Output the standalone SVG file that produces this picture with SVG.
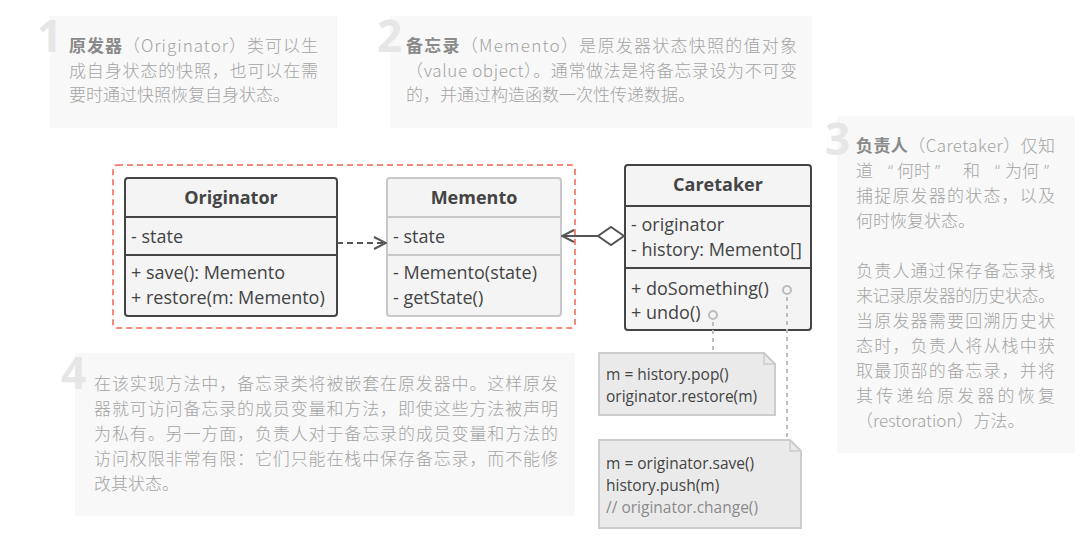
<svg xmlns="http://www.w3.org/2000/svg" width="1085" height="548" viewBox="0 0 1085 548">
<style>
.panel{fill:#f8f8f8}
.num{font-family:"Open Sans","Liberation Sans",sans-serif;font-weight:bold;font-size:44px;fill:#e6e6e6}
.pt{font-family:"Noto Sans CJK SC","Open Sans",sans-serif;font-weight:300;font-size:17px;fill:#a4a4a4}
.pb{font-weight:bold;fill:#8a8a8a}
.box{fill:#f4f4f4;stroke:#444;stroke-width:2}
.boxl{fill:#f4f4f4;stroke:#c8c8c8;stroke-width:2}
.hd{font-family:"Open Sans","Liberation Sans",sans-serif;font-weight:bold;font-size:18px;fill:#444;text-anchor:middle}
.mb{font-family:"Open Sans","Liberation Sans",sans-serif;font-size:18px;fill:#444}
.note{fill:#eaeaea;stroke:#cccccc;stroke-width:2}
.nt{font-family:"Open Sans","Liberation Sans",sans-serif;font-size:15.5px;fill:#444}
.cm{fill:#8a8a8a}
.dot{fill:none;stroke:#bdbdbd;stroke-width:2}
.q{font-family:"Open Sans",sans-serif}
</style>
<defs>
<marker id="open" viewBox="0 0 14 14" refX="13" refY="7" markerWidth="14" markerHeight="14" markerUnits="userSpaceOnUse" orient="auto">
<path d="M1,1 L13,7 L1,13" fill="none" stroke="#555" stroke-width="2"/>
</marker>
</defs>

<g id="note1-panel">
<rect class="panel" x="50" y="16" width="287" height="112"/>
<text class="num" x="37" y="52">1</text>
<text class="pt" x="69" y="52" textLength="249" lengthAdjust="spacing"><tspan class="pb">原发器</tspan>（Originator）类可以生</text>
<text class="pt" x="69" y="77" textLength="249" lengthAdjust="spacing">成自身状态的快照，也可以在需</text>
<text class="pt" x="69" y="101">要时通过快照恢复自身状态。</text>
</g>

<g id="note2-panel">
<rect class="panel" x="390" y="16" width="422" height="112"/>
<text class="num" x="377" y="52">2</text>
<text class="pt" x="406" y="52" textLength="391" lengthAdjust="spacing"><tspan class="pb">备忘录</tspan>（Memento）是原发器状态快照的值对象</text>
<text class="pt" x="406" y="77" textLength="391" lengthAdjust="spacing">（value object）。通常做法是将备忘录设为不可变</text>
<text class="pt" x="406" y="101">的，并通过构造函数一次性传递数据。</text>
</g>

<g id="note3-panel">
<rect class="panel" x="837" y="116" width="238" height="337"/>
<text class="num" x="825" y="155">3</text>
<text class="pt" x="856" y="152" textLength="199" lengthAdjust="spacing"><tspan class="pb">负责人</tspan>（Caretaker）仅知</text>
<text class="pt" y="177"><tspan x="856">道</tspan><tspan class="q" x="888">“</tspan><tspan x="897">何时</tspan><tspan class="q" x="935">”</tspan><tspan x="963">和</tspan><tspan class="q" x="995">“</tspan><tspan x="1005">为何</tspan><tspan class="q" x="1044">”</tspan></text>
<text class="pt" x="856" y="202" textLength="199" lengthAdjust="spacing">捕捉原发器的状态，以及</text>
<text class="pt" x="856" y="227">何时恢复状态。</text>
<text class="pt" x="856" y="277" textLength="199" lengthAdjust="spacing">负责人通过保存备忘录栈</text>
<text class="pt" x="856" y="302" textLength="199" lengthAdjust="spacing">来记录原发器的历史状态。</text>
<text class="pt" x="856" y="327" textLength="199" lengthAdjust="spacing">当原发器需要回溯历史状</text>
<text class="pt" x="856" y="352" textLength="199" lengthAdjust="spacing">态时，负责人将从栈中获</text>
<text class="pt" x="856" y="377" textLength="199" lengthAdjust="spacing">取最顶部的备忘录，并将</text>
<text class="pt" x="856" y="402" textLength="199" lengthAdjust="spacing">其传递给原发器的恢复</text>
<text class="pt" x="856" y="427">（restoration）方法。</text>
</g>

<g id="note4-panel">
<rect class="panel" x="75" y="353" width="500" height="163"/>
<text class="num" x="61" y="389">4</text>
<text class="pt" x="94" y="390" textLength="464" lengthAdjust="spacing">在该实现方法中，备忘录类将被嵌套在原发器中。这样原发</text>
<text class="pt" x="94" y="415" textLength="464" lengthAdjust="spacing">器就可访问备忘录的成员变量和方法，即使这些方法被声明</text>
<text class="pt" x="94" y="440" textLength="464" lengthAdjust="spacing">为私有。另一方面，负责人对于备忘录的成员变量和方法的</text>
<text class="pt" x="94" y="465" textLength="464" lengthAdjust="spacing">访问权限非常有限：它们只能在栈中保存备忘录，而不能修</text>
<text class="pt" x="94" y="490">改其状态。</text>
</g>

<g id="nesting-boundary">
<rect x="113" y="165" width="462" height="163" rx="4" fill="none" stroke="#f58a7a" stroke-width="2" stroke-dasharray="6,4"/>
</g>

<g id="originator">
<rect class="box" x="125" y="178" width="212" height="138" rx="3"/>
<line x1="125" y1="217" x2="337" y2="217" stroke="#444" stroke-width="2"/>
<line x1="125" y1="255" x2="337" y2="255" stroke="#444" stroke-width="2"/>
<text class="hd" x="231" y="204">Originator</text>
<text class="mb" x="131" y="243">- state</text>
<text class="mb" x="131" y="279">+ save(): Memento</text>
<text class="mb" x="131" y="304">+ restore(m: Memento)</text>
</g>

<g id="memento">
<rect class="boxl" x="387" y="178" width="174" height="138" rx="3"/>
<line x1="387" y1="217" x2="561" y2="217" stroke="#c8c8c8" stroke-width="2"/>
<line x1="387" y1="255" x2="561" y2="255" stroke="#c8c8c8" stroke-width="2"/>
<text class="hd" x="474" y="204">Memento</text>
<text class="mb" x="393" y="243">- state</text>
<text class="mb" x="393" y="279">- Memento(state)</text>
<text class="mb" x="393" y="304">- getState()</text>
</g>

<g id="caretaker">
<rect class="box" x="625" y="165" width="186" height="165" rx="3"/>
<line x1="625" y1="206" x2="811" y2="206" stroke="#444" stroke-width="2"/>
<line x1="625" y1="268" x2="811" y2="268" stroke="#444" stroke-width="2"/>
<text class="hd" x="718" y="191">Caretaker</text>
<text class="mb" x="631" y="231">- originator</text>
<text class="mb" x="631" y="256">- history: Memento[]</text>
<text class="mb" x="631" y="295">+ doSomething()</text>
<text class="mb" x="631" y="319">+ undo()</text>
</g>

<g id="note-undo">
<path class="note" d="M599,353 H764 L775,364 V415 H599 Z"/>
<path d="M764,353 V364 H775" fill="none" stroke="#ccc" stroke-width="1.5"/>
<text class="nt" x="606" y="380">m = history.pop()</text>
<text class="nt" x="606" y="402">originator.restore(m)</text>
</g>

<g id="note-do">
<path class="note" d="M599,440 H790 L801,451 V528 H599 Z"/>
<path d="M790,440 V451 H801" fill="none" stroke="#ccc" stroke-width="1.5"/>
<text class="nt" x="606" y="469">m = originator.save()</text>
<text class="nt" x="606" y="491">history.push(m)</text>
<text class="nt cm" x="606" y="513">// originator.change()</text>
</g>

<g id="connectors">
<line x1="337" y1="243" x2="386" y2="243" stroke="#555" stroke-width="2" stroke-dasharray="6,4" marker-end="url(#open)"/>
<line x1="598" y1="236" x2="562" y2="236" stroke="#555" stroke-width="2" marker-end="url(#open)"/>
<path d="M624,236 L611,227 L598,236 L611,245 Z" fill="#fff" stroke="#555" stroke-width="2"/>
<circle class="dot" cx="787" cy="290" r="4"/>
<line x1="787" y1="297" x2="787" y2="440" stroke="#bdbdbd" stroke-width="2" stroke-dasharray="4,4"/>
<circle class="dot" cx="713" cy="315" r="4"/>
<line x1="713" y1="322" x2="713" y2="353" stroke="#bdbdbd" stroke-width="2" stroke-dasharray="4,4"/>
</g>
</svg>
